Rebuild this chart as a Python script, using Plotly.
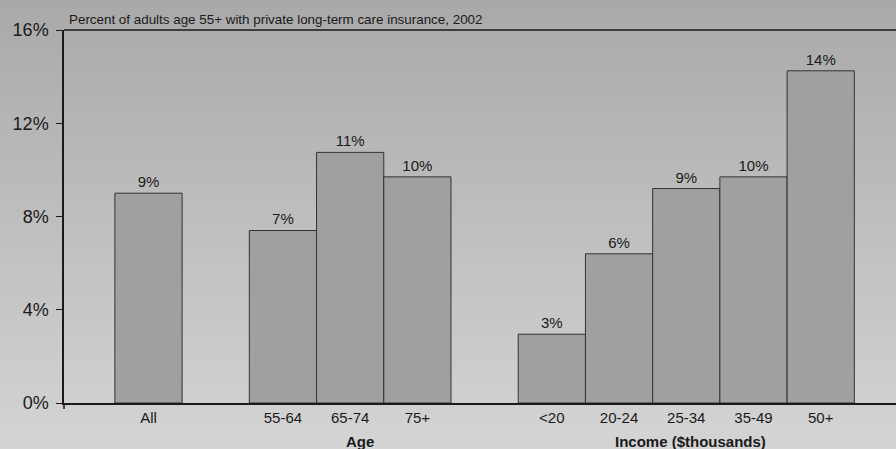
import plotly.graph_objects as go

categories = ["All", "55-64", "65-74", "75+", "<20", "20-24", "25-34", "35-49", "50+"]
positions = [0, 2, 3, 4, 6, 7, 8, 9, 10]
values = [9.0, 7.4, 10.75, 9.7, 2.95, 6.4, 9.2, 9.7, 14.25]
labels = ["9%", "7%", "11%", "10%", "3%", "6%", "9%", "10%", "14%"]
ytick_vals = [0, 4, 8, 12, 16]
ytick_text = ["0%", "4%", "8%", "12%", "16%"]
group_names = ["Age", "Income ($thousands)"]
group_pos = [3.15, 8.07]
title = "Percent of adults age 55+ with private long-term care insurance, 2002"

FONT = "Arial, Liberation Sans, sans-serif"

fig = go.Figure(go.Bar(
    x=positions, y=values, width=1,
    marker=dict(color="#a0a0a0", line=dict(color="#333333", width=1)),
    text=labels, textposition="outside", cliponaxis=False,
    textfont=dict(family=FONT, size=15, color="#1a1a1a"),
))

# vertical gradient background
n = 80
top = (0xa9, 0xa9, 0xa9)
bot = (0xd4, 0xd4, 0xd4)
y0p = -45.5 / 374.0
y1p = 1 + 29.5 / 374.0
shapes = []
for i in range(n):
    t = (i + 0.5) / n
    c = tuple(int(round(top[k] + (bot[k] - top[k]) * t)) for k in range(3))
    ya = y1p - (y1p - y0p) * i / n
    yb = y1p - (y1p - y0p) * (i + 1) / n
    shapes.append(dict(type="rect", xref="paper", yref="paper",
                       x0=-0.1, x1=1.1, y0=yb - 0.002, y1=ya + 0.002,
                       fillcolor="rgb(%d,%d,%d)" % c, line=dict(width=0), layer="below"))
# top frame line and small y-axis extension below the baseline
shapes.append(dict(type="line", xref="paper", yref="paper", x0=0, x1=1, y0=1, y1=1,
                   line=dict(color="#1a1a1a", width=1.5)))
shapes.append(dict(type="line", xref="paper", yref="paper", x0=0, x1=0, y0=0, y1=-0.016,
                   line=dict(color="#1a1a1a", width=1.5)))

annotations = [dict(text=title, xref="paper", yref="paper", x=0.004, y=1.0,
                    xanchor="left", yanchor="bottom", showarrow=False,
                    font=dict(family=FONT, size=13.4, color="#1a1a1a"), yshift=1)]
for g, p in zip(group_names, group_pos):
    annotations.append(dict(text="<b>%s</b>" % g, x=p, xref="x", y=0, yref="paper",
                            yanchor="top", showarrow=False, yshift=-28,
                            font=dict(family=FONT, size=15, color="#1a1a1a")))

fig.update_layout(
    width=896, height=449,
    margin=dict(l=64, r=0, t=29.5, b=45.5),
    paper_bgcolor="#c0c0c0", plot_bgcolor="rgba(0,0,0,0)",
    shapes=shapes, annotations=annotations, showlegend=False,
    xaxis=dict(range=[-1.257, 11.12], tickvals=positions, ticktext=categories,
               showline=True, linecolor="#1a1a1a", linewidth=1.5,
               ticks="", showgrid=False, zeroline=False,
               tickfont=dict(family=FONT, size=15, color="#1a1a1a")),
    yaxis=dict(range=[0, 16], tickvals=ytick_vals, ticktext=ytick_text,
               showline=True, linecolor="#1a1a1a", linewidth=1.5,
               ticks="outside", ticklen=6, tickcolor="#1a1a1a",
               ticklabelstandoff=4,
               showgrid=False, zeroline=False,
               tickfont=dict(family=FONT, size=18, color="#1a1a1a")),
)

fig.write_html("out.html")
